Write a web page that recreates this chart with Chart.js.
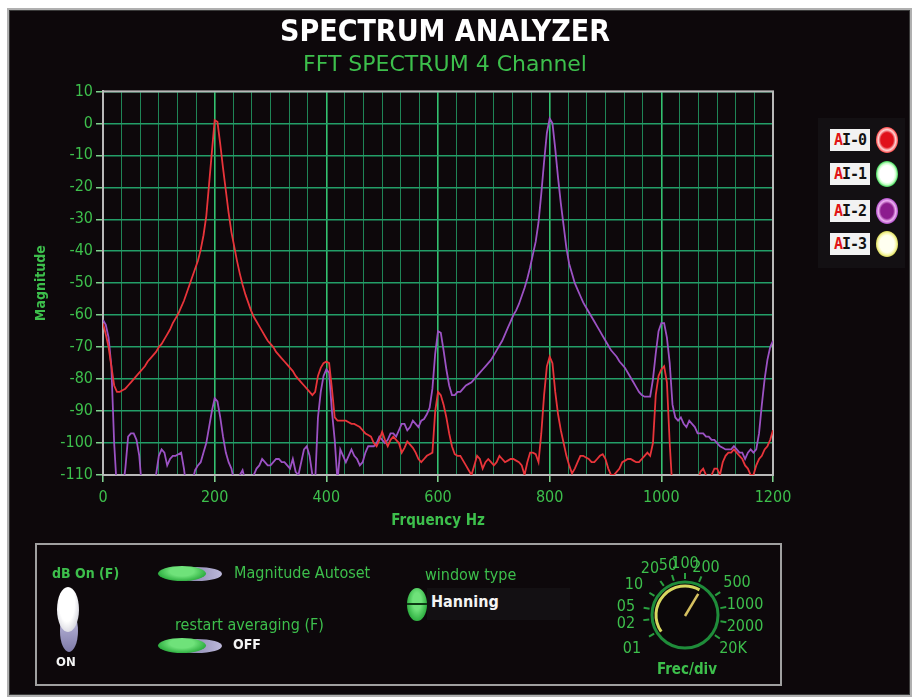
<!DOCTYPE html>
<html>
<head>
<meta charset="utf-8">
<title>Spectrum Analyzer</title>
<script src="https://cdn.jsdelivr.net/npm/chart.js@4.4.1/dist/chart.umd.min.js"></script>
<style>
  body { margin: 0; width: 918px; height: 700px; background: #ffffff; overflow: hidden;
         font-family: "DejaVu Sans Condensed", "DejaVu Sans", sans-serif; }
  #frame { position: absolute; left: 7px; top: 8px; width: 905px; height: 689px; box-sizing: border-box;
           background: #0d080b; border: 2px solid #b0b0b0; box-shadow: inset 0 0 0 1px #3a3a3a; }
  #chartBox { position: absolute; left: 0; top: 0; width: 890px; height: 545px; }
  #legend { position: absolute; left: 818px; top: 118px; width: 87px; height: 150px; background: #131013; }
  .tag { position: absolute; left: 12px; width: 40px; height: 22px; background: #f2f2f2; color: #111;
         font: bold 15px "DejaVu Sans Mono", monospace; line-height: 22px; text-align: center; letter-spacing: -1px; }
  .tag b { color: #e01414; }
  .led { position: absolute; left: 58px; width: 22px; height: 26px; border-radius: 50%; }
  #panel { position: absolute; left: 35px; top: 543px; width: 747px; height: 143px; box-sizing: border-box;
           border: 2px solid #a0a0a0; }
  .lbl { position: absolute; color: #3dbf4c; font-size: 16px; white-space: nowrap; }
  .val { position: absolute; color: #f4f4f4; font-weight: bold; font-size: 13px; white-space: nowrap; }
  .pill { position: absolute; border-radius: 50%; }
</style>
</head>
<body>
<div id="frame"></div>
<div id="chartBox"><canvas id="spectrum"></canvas></div>
<div id="legend"></div>

<div id="panel"></div>
<div class="lbl" style="left:52px; top:565px; font-weight:bold; font-size:14px;">dB On (F)</div>
<div class="pill" style="left:60px; top:610px; width:18px; height:42px; background:linear-gradient(#c9c6e6,#7e7aa8);"></div>
<div class="pill" style="left:57px; top:587px; width:22px; height:45px; background:radial-gradient(ellipse at 45% 35%, #ffffff 0 45%, #d8d8e0 75%, #9a98b0 100%);"></div>
<div class="val" style="left:56px; top:654px;">ON</div>

<div class="pill" style="left:172px; top:567px; width:50px; height:14px; background:linear-gradient(90deg,#6f6c96,#bdb9dc);"></div>
<div class="pill" style="left:158px; top:566px; width:48px; height:15px; background:radial-gradient(ellipse at 50% 35%, #6fe27a 0 35%, #22a536 80%, #158a28 100%);"></div>
<div class="lbl" style="left:234px; top:563px;">Magnitude Autoset</div>

<div class="lbl" style="left:175px; top:615px;">restart averaging (F)</div>
<div class="pill" style="left:172px; top:639px; width:50px; height:14px; background:linear-gradient(90deg,#6f6c96,#bdb9dc);"></div>
<div class="pill" style="left:158px; top:638px; width:48px; height:15px; background:radial-gradient(ellipse at 50% 35%, #6fe27a 0 35%, #22a536 80%, #158a28 100%);"></div>
<div class="val" style="left:233px; top:636px; font-size:14px;">OFF</div>

<div class="lbl" style="left:425px; top:565px;">window type</div>
<div style="position:absolute; left:427px; top:588px; width:143px; height:32px; background:#131013;"></div>
<div class="pill" style="left:407px; top:588px; width:20px; height:33px; background:radial-gradient(ellipse at 50% 40%, #6fe27a 0 30%, #22a536 80%, #158a28 100%);"></div>
<div style="position:absolute; left:407px; top:603px; width:20px; height:2px; background:#0d3a14;"></div>
<div class="val" style="left:431px; top:592px; font-size:16px;">Hanning</div>

<svg id="knob" width="180" height="140" style="position:absolute; left:600px; top:545px;"></svg>

<script>
// FFT bins (Hz)
const freqHz = [
  0,5,10,15,20,25,30,35,40,45,50,55,60,65,70,75,80,85,90,95,
  100,105,110,115,120,125,130,135,140,145,150,155,160,165,170,175,180,185,190,195,
  200,205,210,215,220,225,230,235,240,245,250,255,260,265,270,275,280,285,290,295,
  300,305,310,315,320,325,330,335,340,345,350,355,360,365,370,375,380,385,390,395,
  400,405,410,415,420,425,430,435,440,445,450,455,460,465,470,475,480,485,490,495,
  500,505,510,515,520,525,530,535,540,545,550,555,560,565,570,575,580,585,590,595,
  600,605,610,615,620,625,630,635,640,645,650,655,660,665,670,675,680,685,690,695,
  700,705,710,715,720,725,730,735,740,745,750,755,760,765,770,775,780,785,790,795,
  800,805,810,815,820,825,830,835,840,845,850,855,860,865,870,875,880,885,890,895,
  900,905,910,915,920,925,930,935,940,945,950,955,960,965,970,975,980,985,990,995,
  1000,1005,1010,1015,1020,1025,1030,1035,1040,1045,1050,1055,1060,1065,1070,1075,1080,1085,1090,1095,
  1100,1105,1110,1115,1120,1125,1130,1135,1140,1145,1150,1155,1160,1165,1170,1175,1180,1185,1190,1195,
  1200
];

// channel AI-0 magnitude (dB)
const ai0Db = [
  -62.5,-66,-70,-76,-82,-84,-84,-83.5,-83,-82,
  -81,-80,-79,-78,-77,-76,-74.5,-73.5,-72.5,-71.5,
  -70,-69,-67.5,-66,-64.5,-62.5,-61,-59.5,-57.5,-55.5,
  -53,-50.5,-48,-45.5,-43,-39.5,-35,-29,-19,-9,
  1,0.5,-6.5,-14,-21,-28,-34,-38.5,-43,-47,
  -50.5,-53.5,-56,-58.5,-60.5,-62,-63.5,-65,-66.5,-68,
  -69,-70,-71.5,-72.5,-73.5,-74.5,-75.5,-76.5,-77.5,-79,
  -80,-81,-82,-83,-84,-85,-84,-79,-76.5,-75,
  -74.5,-75,-83,-92,-93,-93,-93,-93,-93.5,-94,
  -94,-94.5,-95,-96,-97,-97.5,-98,-100,-101,-99,
  -96.5,-99,-101,-99,-98,-99,-100,-103,-101.5,-99.5,
  -100.5,-101.5,-103,-105,-106,-105,-104,-103.5,-103,-90,
  -84,-85,-88,-92,-97,-101,-103.5,-104,-104,-105.5,
  -107,-108.5,-110,-107,-104,-105,-108,-106,-105,-106,
  -107,-106,-104,-105,-106,-105.5,-105,-105,-105.5,-106,
  -107,-110,-106,-103,-103,-103.5,-106,-97,-85,-76,
  -73,-75,-84,-91,-96,-100,-104,-107,-109.5,-108,
  -106,-104,-104,-104.5,-105,-106,-106,-105,-104,-103.5,
  -105,-108,-110,-110,-109,-108,-106,-105.5,-105,-105,
  -105.5,-106,-106,-105,-104,-103,-104,-100,-85,-79,
  -77,-76,-81,-100,-115,-115,-115,-115,-112,-115,
  -115,-115,-115,-112,-109,-108,-110,-112,-110,-108,
  -108,-110,-106,-104,-103,-103,-102,-103,-104,-105,
  -107,-108,-110,-110,-107,-105,-104,-102,-101,-99,
  -96
];

// channel AI-2 magnitude (dB)
const ai2Db = [
  -61.5,-63,-67,-76,-100,-115,-115,-115,-108,-98,
  -97,-97,-99,-104,-115,-115,-115,-115,-115,-110,
  -104,-102,-103,-107,-105,-104,-104,-103.5,-103,-108,
  -115,-115,-112,-108.5,-107,-106,-103,-100,-95,-90,
  -86,-87,-92,-98,-103,-106,-108,-112,-115,-110,
  -108.5,-112,-115,-113,-110,-108,-107,-105,-106,-107,
  -107,-106,-105,-105,-106,-106,-107,-108,-105,-109,
  -110,-106,-102,-101,-104,-110,-112,-92,-84,-79,
  -77,-78,-90,-99,-112,-102,-104,-106,-104,-102,
  -104,-105,-107,-106,-103,-101,-101,-101,-100,-98,
  -99,-100,-99,-97,-97,-98,-96,-94,-94,-96,
  -95,-93,-94,-95,-93,-92.5,-91,-89,-83,-72,
  -65,-65.5,-71,-77,-82,-85,-85,-84,-84,-83,
  -82,-81.5,-81,-80,-79,-78,-77,-76,-75,-74,
  -72.5,-71,-69.5,-68,-66,-64,-62,-60,-58.5,-56.5,
  -54,-51.5,-48.5,-45,-41,-37,-31,-22,-12,-3,
  1.5,0,-8,-17,-25,-32,-39,-44,-47,-50,
  -52,-54,-56,-57.5,-59,-60.5,-62,-63.5,-65,-66.5,
  -68,-69.5,-71,-72,-73,-74.5,-75.5,-76.5,-78,-79.5,
  -81,-82.5,-84,-85,-85.5,-85.5,-85.5,-80,-72,-65,
  -62.5,-62.5,-67,-75,-88,-92,-93,-92,-94,-95,
  -93,-94,-95,-97,-97,-97,-98,-98,-99,-99,
  -100,-101,-101.5,-102,-102,-102,-101,-102,-103,-103,
  -105,-103,-102,-103,-102,-97,-88,-80,-74,-70,
  -68
];

const xMajorTicks = [0, 200, 400, 600, 800, 1000, 1200];
const minorPerMajor = 6;

const channelNames = ['AI-0', 'AI-1', 'AI-2', 'AI-3'];
const channelLeds = [
  'radial-gradient(ellipse, #e0101a 0 40%, #ffd6d6 56%, #ff4a4a 70%, rgba(255,60,60,0) 84%)',
  'radial-gradient(ellipse, #ffffff 0 46%, #c8ffc8 58%, #2fd14a 72%, rgba(40,200,70,0) 86%)',
  'radial-gradient(ellipse, #8c1c8e 0 40%, #f0b4f4 56%, #b04cc8 70%, rgba(170,70,200,0) 84%)',
  'radial-gradient(ellipse, #fffff0 0 46%, #f8f8b0 58%, #d8d850 72%, rgba(220,220,80,0) 86%)'
];
const legendTops = [11, 45, 82, 115];

const knobLabels = ['01', '02', '05', '10', '20', '50', '100', '200', '500', '1000', '2000', '20K'];
const knobAngles = [-121, -97, -80, -58, -36, -18, 0, 23, 57, 79, 100, 124];

const green = '#3dbf4c';
const condensed = '"DejaVu Sans Condensed", "DejaVu Sans", sans-serif';

// plot frame (top and right edges of the plot box)
const plotFrame = {
  id: 'plotFrame',
  beforeDatasetsDraw(chart) {
    const { ctx, chartArea: a } = chart;
    ctx.save();
    ctx.strokeStyle = '#b9b9b9';
    ctx.lineWidth = 2;
    ctx.strokeRect(a.left, a.top, a.right - a.left, a.bottom - a.top);
    ctx.restore();
  }
};

new Chart(document.getElementById('spectrum'), {
  type: 'line',
  data: {
    labels: freqHz,
    datasets: [
      { label: 'AI-0', data: ai0Db, borderColor: '#e8343a', borderWidth: 1.8, pointRadius: 0, tension: 0 },
      { label: 'AI-2', data: ai2Db, borderColor: '#9c52c4', borderWidth: 1.8, pointRadius: 0, tension: 0 }
    ]
  },
  options: {
    responsive: true,
    maintainAspectRatio: false,
    animation: false,
    layout: { padding: { top: 15, left: 0, right: 0, bottom: 0 } },
    plugins: {
      legend: { display: false },
      tooltip: { enabled: false },
      title: {
        display: true, text: 'SPECTRUM ANALYZER', color: '#ffffff',
        font: { family: condensed, size: 30, weight: 'bold' }, padding: { top: 0, bottom: 0 }
      },
      subtitle: {
        display: true, text: 'FFT SPECTRUM 4 Channel', color: green,
        font: { family: '"DejaVu Sans", sans-serif', size: 22 }, padding: { top: 1, bottom: 13 }
      }
    },
    scales: {
      x: {
        type: 'linear', min: 0, max: 1200,
        afterBuildTicks: axis => {
          const ticks = [];
          for (let m = 0; m < xMajorTicks.length; m++) {
            const steps = m < xMajorTicks.length - 1 ? minorPerMajor : 1;
            for (let j = 0; j < steps; j++) {
              const next = xMajorTicks[m + 1] !== undefined ? xMajorTicks[m + 1] : xMajorTicks[m];
              ticks.push({ value: xMajorTicks[m] + j * (next - xMajorTicks[m]) / minorPerMajor });
            }
          }
          axis.ticks = ticks;
        },
        ticks: {
          autoSkip: false, maxRotation: 0, color: green, padding: 6,
          font: { family: condensed, size: 16 },
          callback: (v, i) => (i % minorPerMajor === 0 ? v : '')
        },
        grid: {
          color: c => (c.index % minorPerMajor === 0 ? '#33c070' : '#1f8456'),
          lineWidth: c => (c.index % minorPerMajor === 0 ? 1.6 : 1),
          tickColor: c => (c.index % minorPerMajor === 0 ? '#7fd08f' : 'rgba(0,0,0,0)'),
          tickLength: 7
        },
        border: { color: '#b9b9b9', width: 2 },
        title: {
          display: true, text: 'Frquency Hz', color: green,
          font: { family: condensed, size: 15, weight: 'bold' }, padding: { top: 0, bottom: 15 }
        },
        afterFit: s => { s.height = 70; }
      },
      y: {
        min: -110, max: 10,
        ticks: { stepSize: 10, color: green, padding: 3, font: { family: condensed, size: 16 } },
        grid: { color: '#239e68', lineWidth: 1.5, tickColor: '#7fd08f', tickLength: 7 },
        border: { color: '#b9b9b9', width: 2 },
        title: {
          display: true, text: 'Magnitude', color: green,
          font: { family: condensed, size: 14, weight: 'bold' }, padding: { top: 33, bottom: 0 }
        },
        afterFit: s => { s.width = 103; }
      },
      yPad: {
        axis: 'y', type: 'linear', position: 'right', display: true,
        grid: { display: false }, ticks: { display: false }, border: { display: false },
        afterFit: s => { s.width = 117; }
      }
    }
  },
  plugins: [plotFrame]
});

// channel legend
const legend = document.getElementById('legend');
channelNames.forEach((name, i) => {
  const tag = document.createElement('div');
  tag.className = 'tag';
  tag.style.top = legendTops[i] + 'px';
  tag.innerHTML = '<b>' + name.charAt(0) + '</b>' + name.slice(1);
  legend.appendChild(tag);
  const led = document.createElement('div');
  led.className = 'led';
  led.style.top = (legendTops[i] - 2) + 'px';
  led.style.background = channelLeds[i];
  legend.appendChild(led);
});

// frequency-per-division knob
const svgNS = 'http://www.w3.org/2000/svg';
const knob = document.getElementById('knob');
const cx = 85, cy = 70;
function el(tag, attrs, text) {
  const e = document.createElementNS(svgNS, tag);
  for (const k in attrs) e.setAttribute(k, attrs[k]);
  if (text !== undefined) e.textContent = text;
  knob.appendChild(e);
  return e;
}
function pt(angle, r) {
  const a = angle * Math.PI / 180;
  return [cx + r * Math.sin(a), cy - r * Math.cos(a)];
}
const knobLabelPos = [[32,102],[26,77],[26,60],[34,38],[50,22],[68,19],[85,17],[106,21],[137,36],[145,58],[145,80],[133,102]];
knobAngles.forEach(a => {
  const p1 = pt(a, 36), p2 = pt(a, 42);
  el('line', { x1: p1[0], y1: p1[1], x2: p2[0], y2: p2[1], stroke: '#2aa040', 'stroke-width': 2 });
});
el('circle', { cx, cy, r: 33, fill: '#0b0709', stroke: '#1f8c3a', 'stroke-width': 3 });
const s = pt(-125, 29), e = pt(30, 29);
el('path', { d: `M${s[0]} ${s[1]} A29 29 0 0 1 ${e[0]} ${e[1]}`, fill: 'none', stroke: '#d8d860', 'stroke-width': 3 });
const tip = pt(32, 25);
el('line', { x1: cx, y1: cy + 1, x2: tip[0], y2: tip[1], stroke: '#d6c060', 'stroke-width': 2.5 });
knobLabels.forEach((t, i) => {
  el('text', { x: knobLabelPos[i][0], y: knobLabelPos[i][1], fill: green, 'font-size': 16,
    'font-family': 'DejaVu Sans Condensed, DejaVu Sans, sans-serif', 'text-anchor': 'middle', 'dominant-baseline': 'central' }, t);
});
el('text', { x: 87, y: 124, fill: green, 'font-size': 15, 'font-weight': 'bold',
  'font-family': 'DejaVu Sans Condensed, DejaVu Sans, sans-serif', 'text-anchor': 'middle', 'dominant-baseline': 'central' }, 'Frec/div');
</script>
</body>
</html>
